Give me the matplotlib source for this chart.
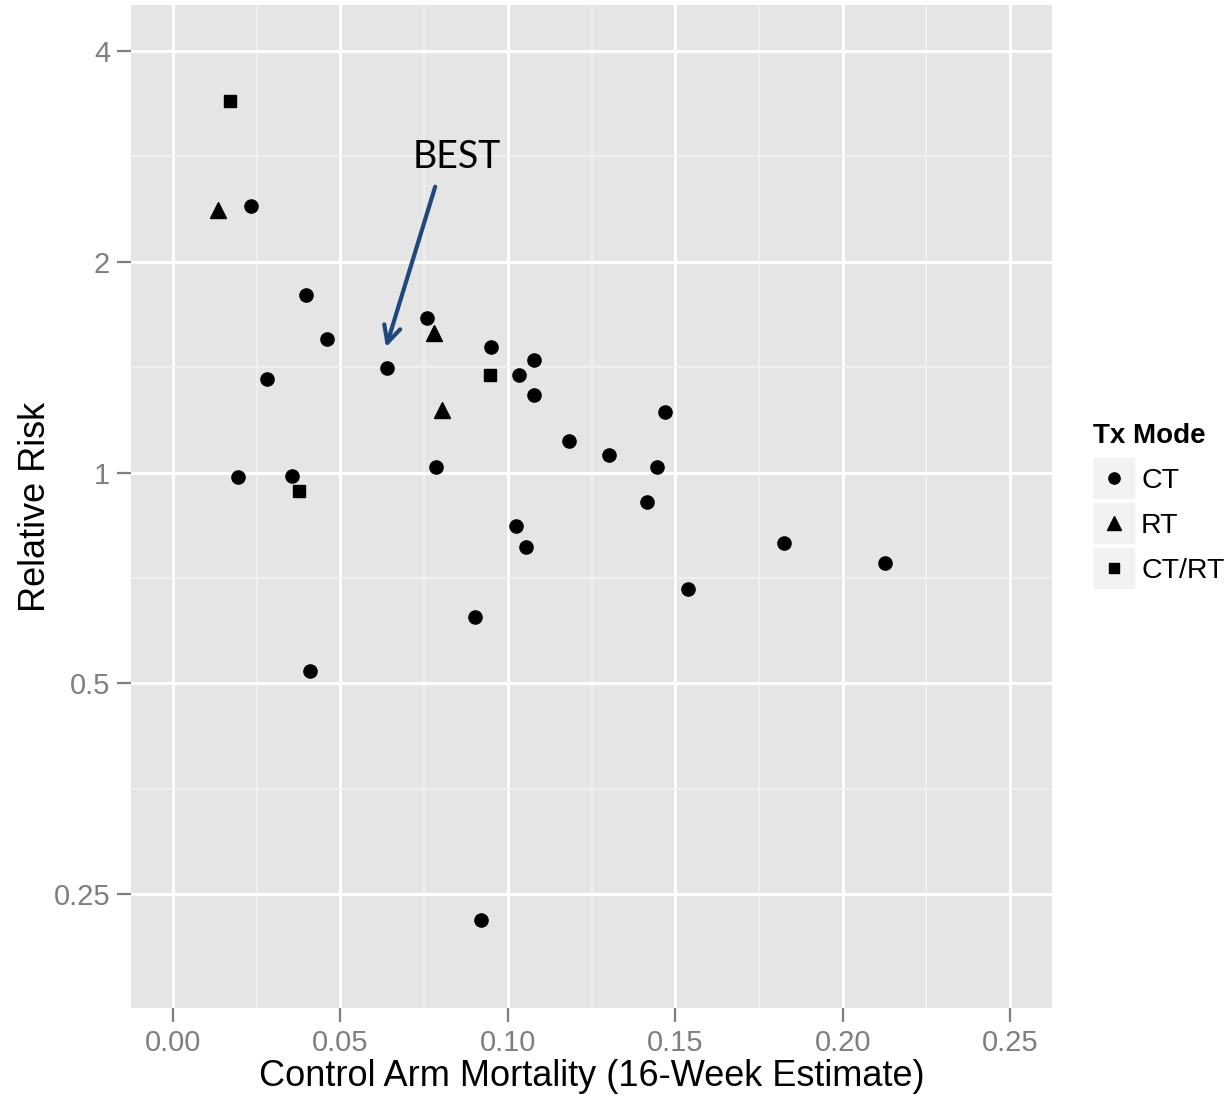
import numpy as np
import matplotlib
matplotlib.use("Agg")
import matplotlib.pyplot as plt
from matplotlib.lines import Line2D
from matplotlib.legend_handler import HandlerTuple

plt.rcParams['font.family'] = ['Liberation Sans', 'DejaVu Sans']

# control arm mortality / relative risk, by treatment mode
x_ct = [0.0233, 0.0194, 0.0281, 0.0397, 0.0460, 0.0355, 0.0409, 0.0639,
        0.0759, 0.0786, 0.0950, 0.1033, 0.1078, 0.1078, 0.0902, 0.1024,
        0.1054, 0.1183, 0.1302, 0.1446, 0.1470, 0.1416, 0.1538, 0.1825,
        0.2127, 0.0920]
rr_ct = [2.40, 0.987, 1.36, 1.79, 1.55, 0.99, 0.520, 1.41,
         1.66, 1.02, 1.51, 1.38, 1.45, 1.29, 0.621, 0.840,
         0.782, 1.11, 1.06, 1.02, 1.22, 0.909, 0.681, 0.792,
         0.742, 0.230]

x_rt = [0.0134, 0.0780, 0.0803]
rr_rt = [2.37, 1.58, 1.23]

x_ctrt = [0.0170, 0.0947, 0.0376]
rr_ctrt = [3.39, 1.38, 0.941]

x_ticks = [0.00, 0.05, 0.10, 0.15, 0.20, 0.25]
x_labels = ["0.00", "0.05", "0.10", "0.15", "0.20", "0.25"]
y_ticks = [0.25, 0.5, 1, 2, 4]
y_labels = ["0.25", "0.5", "1", "2", "4"]

modes = ["CT", "RT", "CT/RT"]

bg = '#e5e5e5'
tick_col = '#7f7f7f'

fig = plt.figure(figsize=(12.28, 10.97), dpi=100)
ax = fig.add_axes([131/1228, 89/1097, 921/1228, 1003/1097])
ax.set_facecolor(bg)
for s in ax.spines.values():
    s.set_visible(False)

ax.set_yscale('log', base=2)
ax.set_xlim(-0.01255, 0.2625)
ax.set_ylim(2 ** -2.54, 2 ** 2.218)

ax.set_xticks(x_ticks)
ax.set_xticklabels(x_labels)
ax.set_yticks(y_ticks)
ax.set_yticklabels(y_labels)
ax.set_xticks([0.025, 0.075, 0.125, 0.175, 0.225], minor=True)
ax.set_yticks([2 ** -1.5, 2 ** -0.5, 2 ** 0.5, 2 ** 1.5], minor=True)
ax.yaxis.set_minor_formatter(matplotlib.ticker.NullFormatter())

ax.grid(which='major', color='white', lw=2.2)
ax.grid(which='minor', color='#f2f2f2', lw=1.2)
ax.set_axisbelow(True)
ax.tick_params(which='major', length=10, width=1.6, color=tick_col,
               labelcolor=tick_col, labelsize=21, pad=5)
ax.tick_params(which='minor', length=0)

ax.plot(x_ct, rr_ct, 'o', color='black', ms=9.5, ls='none')
ax.plot(x_rt, rr_rt, '^', color='black', ms=12, ls='none')
ax.plot(x_ctrt, rr_ctrt, 's', color='black', ms=9, ls='none')

ax.annotate('', xy=(0.0636, 1.51), xytext=(0.0783, 2.56),
            arrowprops=dict(arrowstyle='->', color='#1f497d', lw=3,
                            mutation_scale=30, shrinkA=0, shrinkB=0))
ax.text(0.0848, 2.82, 'BEST', fontsize=27, family=['Lato', 'DejaVu Sans'],
        ha='center', va='center')

ax.set_xlabel('Control Arm Mortality (16-Week Estimate)', fontsize=26)
ax.set_ylabel('Relative Risk', fontsize=26)
ax.xaxis.set_label_coords(0.5, -0.068)
ax.xaxis.label.set_va('center')
ax.yaxis.set_label_coords(-0.104, 0.5)
ax.yaxis.label.set_va('center')

keys = []
for m, ms in zip(['o', '^', 's'], [9.5, 12, 9]):
    back = Line2D([], [], marker='s', ms=29.5, color='#f2f2f2', ls='none')
    fore = Line2D([], [], marker=m, ms=ms * 0.85, color='black', ls='none')
    keys.append((back, fore))
leg = fig.legend(keys, modes,
                 handler_map={tuple: HandlerTuple(ndivide=1, pad=0)},
                 loc='upper left', bbox_to_anchor=(1093/1228, 1 - 423/1097),
                 frameon=False, fontsize=20.5, title='Tx Mode',
                 title_fontproperties={'weight': 'bold', 'size': 20},
                 alignment='left', handlelength=1.44, handletextpad=0.25,
                 labelspacing=0.67, borderpad=0, borderaxespad=0)

fig.savefig('out.png', dpi=100)
